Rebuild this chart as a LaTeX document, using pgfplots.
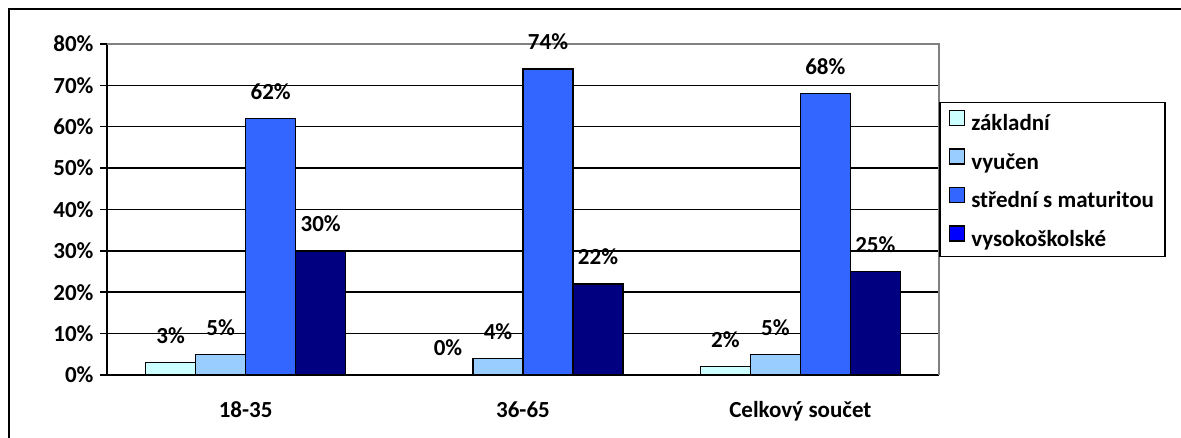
\documentclass[border=0pt]{standalone}
\usepackage{fontspec}
\setmainfont{Carlito}
\usepackage{pgfplots}
\pgfplotsset{compat=1.18}
\definecolor{zakl}{HTML}{CCFFFF}
\definecolor{vyuc}{HTML}{99CCFF}
\definecolor{stred}{HTML}{3366FF}
\definecolor{vysok}{HTML}{000080}
\definecolor{framegray}{HTML}{808080}
\begin{document}
\begin{tikzpicture}[x=1pt,y=1pt,font=\fontsize{23}{27}\selectfont\bfseries]
\useasboundingbox (0,0) rectangle (1181,438);
\clip (0,0) rectangle (1181,438);
\draw[line width=1.5pt] (9,-10) rectangle (1195,429);
\begin{axis}[
    at={(107pt,63pt)}, anchor=south west,
    scale only axis, width=832pt, height=331pt,
    ybar=0pt, bar width=50pt,
    xmin=-0.5, xmax=2.5, ymin=0, ymax=80,
    axis x line*=bottom, axis y line*=left,
    axis line style={line width=1.5pt},
    xtick={0,1,2},
    xticklabels={18-35,36-65,Celkový součet},
    x tick style={draw=none},
    extra x ticks={-0.5,0.5,1.5,2.5},
    extra x tick labels={},
    extra x tick style={major tick length=7pt, tick align=outside, tick style={line width=1.5pt, draw=black}, grid=none},
    ytick={0,10,...,80},
    yticklabels={0\%,10\%,20\%,30\%,40\%,50\%,60\%,70\%,80\%},
    tick align=outside, major tick length=7pt,
    y tick style={line width=1.5pt, black},
    ymajorgrids=true,
    grid style={line width=1.5pt, black},
    tick label style={font=\fontsize{23}{27}\selectfont\bfseries},
    xticklabel style={yshift=-16pt},
    yticklabel style={xshift=-3pt},
    point meta=explicit symbolic,
    nodes near coords={\pgfplotspointmeta\%},
    nodes near coords style={font=\fontsize{23}{27}\selectfont\bfseries, anchor=base, yshift=19pt},
    every axis plot/.append style={draw=black, line width=1.5pt},
    legend cell align=left,
    legend image code/.code={\draw[#1] (0pt,-2pt) rectangle (15pt,13pt); \path (19pt,0pt);},
    legend style={at={(1,0.825)}, anchor=north west, draw=black, line width=1.5pt,
        font=\fontsize{23}{27}\selectfont\bfseries, row sep=14pt,
        inner xsep=9pt, inner ysep=7pt},
    clip=false,
]
\addplot[fill=zakl] coordinates {(0,3) [3] (1,0) [0] (2,2) [2]};
\addplot[fill=vyuc] coordinates {(0,5) [5] (1,4) [4] (2,5) [5]};
\addplot[fill=stred] coordinates {(0,62) [62] (1,74) [74] (2,68) [68]};
\addplot[fill=vysok, legend image code/.code={\draw[draw=black,line width=1.5pt,fill=blue] (0pt,-2pt) rectangle (15pt,13pt); \path (19pt,0pt);}]
    coordinates {(0,30) [30] (1,22) [22] (2,25) [25]};
\legend{základní,vyučen,střední s maturitou,vysokoškolské}
\draw[framegray, line width=1.5pt] (rel axis cs:0,1) -- (rel axis cs:1,1) -- (rel axis cs:1,0);
\end{axis}
\end{tikzpicture}
\end{document}
